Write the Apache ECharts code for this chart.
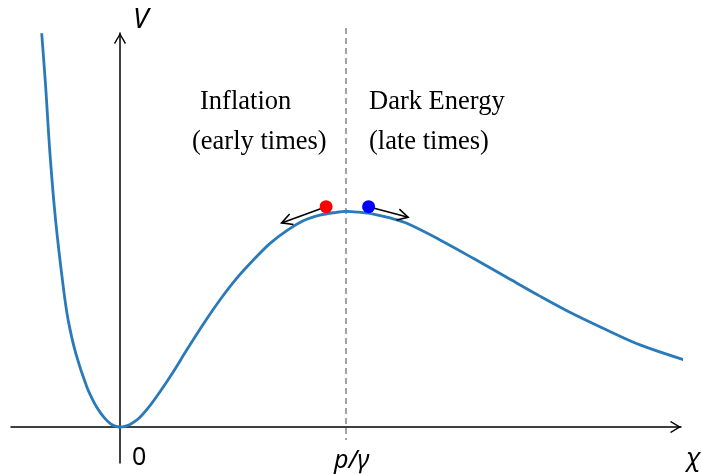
<!DOCTYPE html>
<html>
<head>
<meta charset="utf-8">
<script src="https://cdn.jsdelivr.net/npm/echarts@6/dist/echarts.min.js"></script>
<style>html,body{margin:0;padding:0;background:#fff}#c{width:701px;height:474px}</style>
</head>
<body>
<div id="c"></div>
<script>
// Potential curve V(chi) (chi in units of p/gamma, V in units of the peak height)
const chi = [-0.3465,-0.329,-0.310,-0.285,-0.251,-0.229,-0.196,-0.147,-0.114,-0.0885,-0.066,-0.044,-0.022,0,0.022,0.044,0.066,0.0885,0.1327,0.177,0.236,0.295,0.369,0.442,0.516,0.590,0.664,0.738,0.811,0.885,0.959,1.0,1.05,1.121,1.195,1.269,1.416,1.563,1.711,1.858,2.006,2.154,2.301,2.508];
const V   = [1.823,1.576,1.267,0.958,0.649,0.493,0.342,0.186,0.112,0.069,0.039,0.017,0.004,0,0.003,0.012,0.026,0.045,0.099,0.163,0.256,0.356,0.477,0.588,0.688,0.773,0.850,0.909,0.955,0.981,0.994,0.998,0.995,0.986,0.968,0.943,0.866,0.781,0.693,0.606,0.523,0.449,0.380,0.307];
// tick labels (at chi = 0 and chi = p/gamma)
const tickValues = [0, 1];
const tickLabels = ['0', 'p/γ'];
// dashed divider at p/gamma
const dividerChi = 1;
const dividerV = [1.847, -0.06];
// balls and their roll arrows
const ballChi = [0.912, 1.100];
const ballV = [1.020, 1.020];
const ballColors = ['#ff0000', '#0000ff'];
const arrowTipChi = [0.715, 1.275];
const arrowTipV = [0.945, 0.971];
// annotations
const notes = [
  ['Inflation', '(early times)'],
  ['Dark Energy', '(late times)']
];
const axisNames = ['χ', 'V'];

const chart = echarts.init(document.getElementById('c'), null, {renderer: 'canvas'});
const chevron = 'path://M6,0 L12,10 L10.9,11 L6,2.6 L1.1,11 L0,10 Z';
const axisLine = {
  onZero: true,
  symbol: ['none', chevron],
  symbolSize: [12, 11],
  symbolOffset: [0, -5.5],
  lineStyle: {color: '#000', width: 1.5}
};
const serif = '26.5px "Liberation Serif"';

const option = {
  animation: false,
  backgroundColor: '#fff',
  grid: {left: 11, right: 20, top: 33, bottom: 11, containLabel: false, outerBoundsMode: 'none'},
  xAxis: {
    type: 'value', min: -0.4823, max: 2.4823,
    axisLine: axisLine,
    axisTick: {show: false},
    splitLine: {show: false},
    axisLabel: {show: false}
  },
  yAxis: {
    type: 'value', min: -0.1667, max: 1.8241,
    axisLine: axisLine,
    axisTick: {show: false},
    splitLine: {show: false},
    axisLabel: {show: false}
  },
  series: [
    {
      type: 'line', name: 'divider', clip: false, silent: true, z: 1,
      data: dividerV.map(v => [dividerChi, v]),
      showSymbol: false,
      lineStyle: {color: '#8c8c8c', width: 1.6, type: [6, 4]}
    },
    {
      type: 'line', name: 'V', clip: false, z: 3,
      data: chi.map((c, i) => [c, V[i]]),
      smooth: 0.35,
      showSymbol: false,
      lineStyle: {color: '#2a7ab9', width: 2.8}
    },
    {
      type: 'custom', name: 'arrows', z: 4, clip: false,
      data: ballChi.map((c, i) => [c, ballV[i], arrowTipChi[i], arrowTipV[i]]),
      renderItem: function (params, api) {
        const s = api.coord([api.value(0), api.value(1)]);
        const e = api.coord([api.value(2), api.value(3)]);
        const ang = Math.atan2(e[1] - s[1], e[0] - s[0]);
        const L = 12, a = 28 * Math.PI / 180;
        const p1 = [e[0] - L * Math.cos(ang - a), e[1] - L * Math.sin(ang - a)];
        const p2 = [e[0] - L * Math.cos(ang + a), e[1] - L * Math.sin(ang + a)];
        return {
          type: 'group',
          children: [
            {type: 'line', shape: {x1: s[0], y1: s[1], x2: e[0], y2: e[1]}, style: {stroke: '#000', lineWidth: 1.6}},
            {type: 'polyline', shape: {points: [p1, e, p2]}, style: {stroke: '#000', lineWidth: 1.6, fill: null}}
          ]
        };
      }
    },
    {
      type: 'scatter', name: 'balls', z: 5, clip: false,
      data: ballChi.map((c, i) => ({value: [c, ballV[i]], itemStyle: {color: ballColors[i], opacity: 1}})),
      symbolSize: 13
    }
  ],
  graphic: [
    {type: 'text', left: 200, top: 89, style: {text: notes[0][0], font: serif, fill: '#000'}},
    {type: 'text', left: 192, top: 129, style: {text: notes[0][1], font: serif, fill: '#000'}},
    {type: 'text', left: 369, top: 89, style: {text: notes[1][0], font: serif, fill: '#000'}},
    {type: 'text', left: 369, top: 129, style: {text: notes[1][1], font: serif, fill: '#000'}},
    {type: 'text', left: 132, top: 445, style: {text: tickLabels[0], font: '25px "Noto Sans"', fill: '#000'}},
    {type: 'text', left: 334, top: 448, style: {text: tickLabels[1], font: 'italic 25px "Noto Sans"', fill: '#000'}},
    {type: 'text', left: 133, top: 6, style: {text: axisNames[1], font: 'italic 28px "Noto Sans"', fill: '#000'}},
    {type: 'text', left: 686, top: 446, style: {text: axisNames[0], font: 'italic 26px "Noto Sans"', fill: '#000'}}
  ]
};
chart.setOption(option);
</script>
</body>
</html>
